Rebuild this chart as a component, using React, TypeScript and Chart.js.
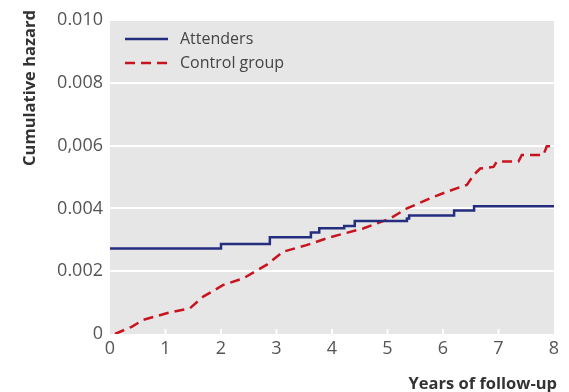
import React, { useEffect, useRef } from "react";
import { Chart, registerables } from "chart.js";

Chart.register(...registerables);

// Attenders (step function): follow-up years and cumulative hazard
const attendersYears = [0, 2.0, 2.88, 3.62, 3.77, 4.22, 4.41, 5.35, 5.39, 6.2, 6.56, 8.0];
const attendersHazard = [0.00272, 0.00287, 0.00308, 0.00323, 0.00337, 0.00344, 0.0036, 0.00368, 0.00377, 0.00393, 0.00407, 0.00407];

// Control group
const controlYears = [0.09, 0.39, 0.6, 1.02, 1.44, 1.68, 2.04, 2.4, 2.82, 3.12, 3.54, 3.96, 4.56, 5.05, 5.35, 5.77, 6.07, 6.43, 6.55, 6.67, 6.91, 6.97, 7.36, 7.42, 7.81, 7.87, 8.0];
const controlHazard = [0, 0.00023, 0.00045, 0.00066, 0.00082, 0.00119, 0.00156, 0.00177, 0.0022, 0.00262, 0.00283, 0.00308, 0.00336, 0.00368, 0.004, 0.00432, 0.00453, 0.00475, 0.00506, 0.00527, 0.00532, 0.00549, 0.00549, 0.0057, 0.0057, 0.00598, 0.00598];

const seriesLabels = ["Attenders", "Control group"];
const yTickLabels = ["0", "0.002", "0.004", "0,006", "0.008", "0.010"];
const xTickValues = [0, 1, 2, 3, 4, 5, 6, 7, 8];
const yAxisTitle = "Cumulative hazard";
const xAxisTitle = "Years of follow-up";

const NAVY = "#252d7e";
const RED = "#c8141e";
const TEXT = "#555555";
const FONT = "'Open Sans', 'Noto Sans', sans-serif";

const decorPlugin = {
  id: "decor",
  beforeDraw(chart: any) {
    const { ctx, chartArea } = chart;
    ctx.save();
    ctx.fillStyle = "#e6e6e6";
    ctx.fillRect(chartArea.left, chartArea.top, chartArea.right - chartArea.left, chartArea.bottom - chartArea.top);
    ctx.restore();
  },
  afterDraw(chart: any) {
    const { ctx, chartArea, scales } = chart;
    ctx.save();
    // white tick marks inside the bottom of the plot
    ctx.strokeStyle = "#ffffff";
    ctx.lineWidth = 2;
    xTickValues.forEach((v) => {
      const x = scales.x.getPixelForValue(v);
      if (v === 0 || v === 8) return;
      ctx.beginPath();
      ctx.moveTo(x, chartArea.bottom);
      ctx.lineTo(x, chartArea.bottom - 5);
      ctx.stroke();
    });
    // legend
    const lx0 = chartArea.left + 15;
    const lx1 = chartArea.left + 58;
    const ys = [chartArea.top + 19, chartArea.top + 43];
    ctx.lineWidth = 2.5;
    ctx.strokeStyle = NAVY;
    ctx.setLineDash([]);
    ctx.beginPath();
    ctx.moveTo(lx0, ys[0]);
    ctx.lineTo(lx1, ys[0]);
    ctx.stroke();
    ctx.strokeStyle = RED;
    ctx.setLineDash([10, 6]);
    ctx.beginPath();
    ctx.moveTo(lx0, ys[1]);
    ctx.lineTo(lx1, ys[1]);
    ctx.stroke();
    ctx.setLineDash([]);
    ctx.fillStyle = "#444444";
    ctx.font = `16px ${FONT}`;
    ctx.textBaseline = "middle";
    ctx.textAlign = "left";
    ctx.fillText(seriesLabels[0], lx1 + 12, ys[0]);
    ctx.fillText(seriesLabels[1], lx1 + 12, ys[1]);
    // axis titles
    ctx.fillStyle = "#333333";
    ctx.font = `bold 16.5px ${FONT}`;
    ctx.save();
    ctx.translate(30, 88);
    ctx.rotate(-Math.PI / 2);
    ctx.textAlign = "center";
    ctx.fillText(yAxisTitle, 0, 0);
    ctx.restore();
    ctx.textAlign = "right";
    ctx.fillText(xAxisTitle, 557, 384);
    ctx.restore();
  },
};

export default function App() {
  const ref = useRef<HTMLCanvasElement | null>(null);
  useEffect(() => {
    if (!ref.current) return;
    const chart = new Chart(ref.current, {
      type: "line",
      data: {
        datasets: [
          {
            label: seriesLabels[0],
            data: attendersYears.map((x, i) => ({ x, y: attendersHazard[i] })),
            borderColor: NAVY,
            borderWidth: 2.5,
            pointRadius: 0,
            stepped: "before",
            fill: false,
          },
          {
            label: seriesLabels[1],
            data: controlYears.map((x, i) => ({ x, y: controlHazard[i] })),
            borderColor: RED,
            borderWidth: 2.5,
            borderDash: [10, 6],
            pointRadius: 0,
            tension: 0,
            fill: false,
          },
        ],
      },
      options: {
        responsive: false,
        animation: false,
        layout: { padding: { top: 20, right: 15, left: 0, bottom: 0 } },
        plugins: { legend: { display: false }, tooltip: { enabled: false } },
        scales: {
          x: {
            type: "linear",
            min: 0,
            max: 8,
            afterBuildTicks: (scale: any) => {
              scale.ticks = xTickValues.map((v) => ({ value: v }));
            },
            afterFit: (scale: any) => {
              scale.height = 58;
            },
            grid: { display: false, drawTicks: false },
            border: { display: false },
            ticks: {
              color: TEXT,
              font: { family: FONT, size: 18 },
              padding: 4,
              maxRotation: 0,
              callback: (v: any) => String(v),
            },
          },
          y: {
            type: "linear",
            min: 0,
            max: 0.01,
            afterBuildTicks: (scale: any) => {
              scale.ticks = yTickLabels.map((_, i) => ({ value: i * 0.002 }));
            },
            afterFit: (scale: any) => {
              scale.width = 110;
            },
            grid: {
              drawTicks: false,
              lineWidth: 2,
              color: (c: any) => (c.tick && c.tick.value === 0 ? "rgba(0,0,0,0)" : "#ffffff"),
            },
            border: { display: false },
            ticks: {
              color: TEXT,
              font: { family: FONT, size: 18 },
              padding: 7,
              callback: (_v: any, i: number) => yTickLabels[i],
            },
          },
        },
      },
      plugins: [decorPlugin],
    } as any);
    return () => chart.destroy();
  }, []);
  return (
    <div style={{ position: "absolute", left: 0, top: 0, width: 569, height: 392, background: "#fff" }}>
      <canvas ref={ref} width={569} height={392} style={{ display: "block" }} />
    </div>
  );
}
